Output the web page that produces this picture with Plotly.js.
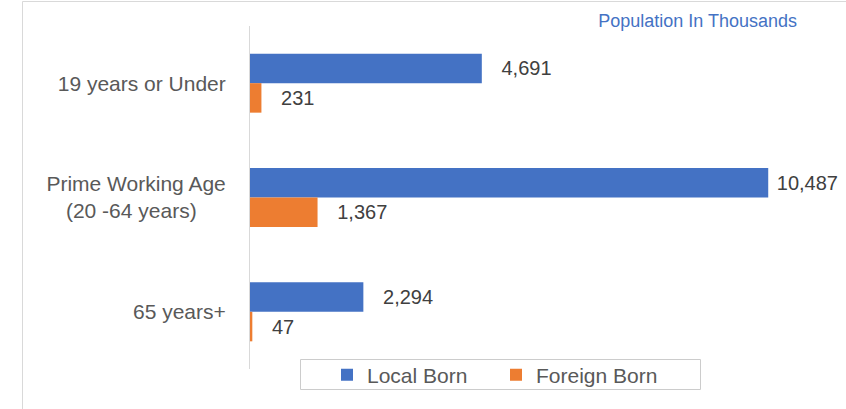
<!DOCTYPE html>
<html>
<head>
<meta charset="utf-8">
<script src="https://cdn.plot.ly/plotly-3.0.1.min.js"></script>
<style>html,body{margin:0;padding:0;background:#fff;}#chart{width:846px;height:409px;}</style>
</head>
<body>
<div id="chart"></div>
<script>
// ---- data ----
const categories = ["19 years or Under", "Prime Working Age<br>(20 -64 years)\u00a0\u00a0\u00a0\u00a0\u00a0", "65 years+"];
const localBorn = [4691, 10487, 2294];
const foreignBorn = [231, 1367, 47];
const seriesNames = ["Local Born", "Foreign Born"];
const chartTitle = "Population In Thousands";

// ---- layout helpers (pixel -> paper) ----
const W = 846, H = 409;
const L = 250, R = 3, T = 26, B = 40;
const pw = W - L - R, ph = H - T - B;
const px = x => (x - L) / pw;
const py = y => (H - B - y) / ph;

const fmt = v => v.toLocaleString('en-US');
const lbl = v => (v >= 10000 ? '\u00a0' : '\u00a0\u00a0\u00a0') + fmt(v);

const font = 'Arial, "Liberation Sans", sans-serif';

const traces = [
  {
    type: 'bar', orientation: 'h', name: seriesNames[0],
    y: categories, x: localBorn,
    text: localBorn.map(lbl), textposition: 'outside', constraintext: 'none', cliponaxis: false,
    textfont: {family: font, size: 20, color: '#404040'},
    marker: {color: '#4472C4'}, hoverinfo: 'x+name'
  },
  {
    type: 'bar', orientation: 'h', name: seriesNames[1],
    y: categories, x: foreignBorn,
    text: foreignBorn.map(lbl), textposition: 'outside', constraintext: 'none', cliponaxis: false,
    textfont: {family: font, size: 20, color: '#404040'},
    marker: {color: '#ED7D31'}, hoverinfo: 'x+name'
  }
];

const layout = {
  width: W, height: H,
  margin: {l: L, r: R, t: T, b: B, pad: 0},
  paper_bgcolor: '#ffffff', plot_bgcolor: '#ffffff',
  font: {family: font, size: 21, color: '#595959'},
  barmode: 'group', bargap: 0.484, bargroupgap: 0,
  title: {
    text: chartTitle, font: {family: font, size: 18, color: '#4472C4'},
    xref: 'paper', x: px(797), xanchor: 'right',
    yref: 'container', y: 1 - 21 / H, yanchor: 'middle'
  },
  xaxis: {
    range: [0, 12000], showgrid: false, zeroline: false, showline: false,
    showticklabels: false, ticks: '', fixedrange: true
  },
  yaxis: {
    autorange: 'reversed', showgrid: false, zeroline: false,
    showline: true, linecolor: '#d9d9d9', linewidth: 1,
    ticks: '', ticklabelstandoff: 19,
    tickfont: {family: font, size: 21, color: '#595959'}, fixedrange: true
  },
  showlegend: true,
  legend: {
    orientation: 'h', x: px(327), xanchor: 'left',
    y: py(375), yanchor: 'middle',
    font: {family: font, size: 21, color: '#595959'},
    bgcolor: 'rgba(0,0,0,0)', borderwidth: 0,
    entrywidth: 124, traceorder: 'normal'
  },
  shapes: [
    {type: 'rect', xref: 'paper', yref: 'paper',
     x0: px(22.5), x1: px(860), y0: py(420), y1: py(1.5),
     line: {color: '#d9d9d9', width: 1}, fillcolor: 'rgba(0,0,0,0)', layer: 'below'},
    {type: 'rect', xref: 'paper', yref: 'paper',
     x0: px(300.5), x1: px(700.5), y0: py(389.5), y1: py(359.5),
     line: {color: '#cccccc', width: 1}, fillcolor: 'rgba(0,0,0,0)', layer: 'below'}
  ]
};

Plotly.newPlot('chart', traces, layout, {displayModeBar: false, staticPlot: true});
</script>
</body>
</html>
